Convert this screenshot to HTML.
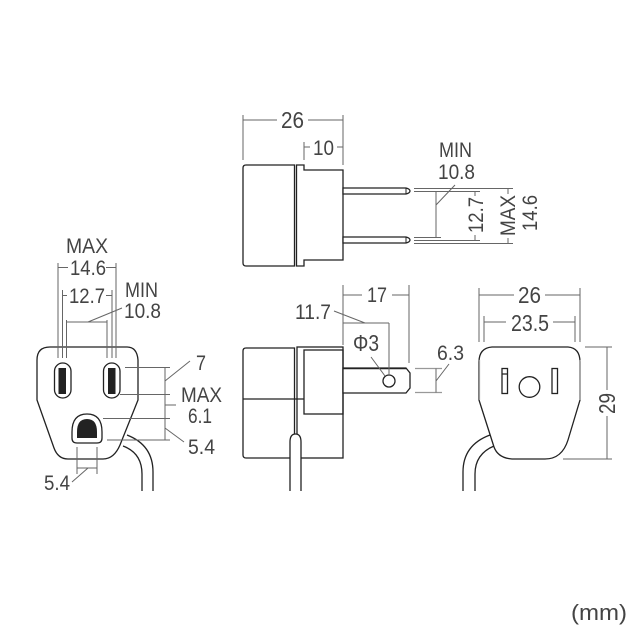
<!DOCTYPE html>
<html>
<head>
<meta charset="utf-8">
<style>
html,body{margin:0;padding:0;background:#fff}
svg{display:block}
text{font-family:"Liberation Sans",sans-serif;font-size:21px;fill:#444}
text.b{font-size:23px}
.o{fill:#fff;stroke:#222;stroke-width:1.3}
.l{fill:none;stroke:#222;stroke-width:1.3}
.d{fill:none;stroke:#666;stroke-width:1}
.g{fill:none;stroke:#999;stroke-width:1.2}
</style>
</head>
<body>
<svg width="640" height="640" viewBox="0 0 640 640" xmlns="http://www.w3.org/2000/svg">
<!-- LEFT VIEW -->
<path class="l" d="M127 435Q153 445 153 472V491"/>
<path class="l" d="M123 446Q142 453 142 474V491"/>
<path class="o" d="M50 347H127Q137 347 138 360V400L120 445Q114 459 103 459H68Q58 459 54 448L37 400V360Q37 347 50 347Z"/>
<rect class="o" x="54.5" y="363" width="16.5" height="35" rx="8.2"/>
<rect x="58.5" y="368" width="7.5" height="26" fill="#222"/>
<rect class="o" x="103.5" y="363" width="16.5" height="35" rx="8.2"/>
<rect x="108" y="368" width="7.5" height="26" fill="#222"/>
<path class="o" d="M72 438V432Q72 414 87 414Q102 414 102 432V438Q102 443 97 443H77Q72 443 72 438Z"/>
<path d="M77 438V432Q77 419 87 419Q97 419 97 432V438Z" fill="#222"/>
<path class="d" d="M58 263V358M116 263V358M62.500 290V358M112 290V358M66.500 320V358M107 320V358"/>
<path class="d" d="M58 267.500H68M106 267.500H116M62.500 295.500H67M106 295.500H112M66.500 322H107M88 322L122 308"/>
<path class="d" d="M125 367.500H170M120 394.500H170M103 418.500H170M107 440H170M165 367.500V440M165 405H176M165 381L190 361M165 428L184 442"/>
<path class="d" d="M77 447V474M97 447V474M77 468H97M88 468L72 482"/>
<text x="66" y="253" textLength="42" lengthAdjust="spacingAndGlyphs">MAX</text>
<text x="70" y="275" textLength="36" lengthAdjust="spacingAndGlyphs">14.6</text>
<text x="69" y="303" textLength="36" lengthAdjust="spacingAndGlyphs">12.7</text>
<text x="125" y="297" textLength="33" lengthAdjust="spacingAndGlyphs">MIN</text>
<text x="124" y="318" textLength="37" lengthAdjust="spacingAndGlyphs">10.8</text>
<text x="196" y="370" textLength="10" lengthAdjust="spacingAndGlyphs">7</text>
<text x="181" y="402" textLength="41" lengthAdjust="spacingAndGlyphs">MAX</text>
<text x="188" y="423" textLength="24" lengthAdjust="spacingAndGlyphs">6.1</text>
<text x="188" y="454" textLength="27" lengthAdjust="spacingAndGlyphs">5.4</text>
<text x="44" y="490" textLength="26" lengthAdjust="spacingAndGlyphs">5.4</text>
<!-- TOP VIEW -->
<path class="o" d="M246 165H294.500V266H246Q243 266 243 263V168Q243 165 246 165Z"/>
<path class="o" d="M296.500 165H304V170H343V260H304V266H296.500Z"/>
<path class="o" d="M343 188H406Q410 189 410 191Q410 193 406 194H343Z"/>
<path class="o" d="M343 237H406Q410 238 410 240Q410 242 406 243H343Z"/>
<path d="M406 188V194M406 237V243" stroke="#222" fill="none"/>
<path class="d" d="M243 115V160M343 115V165M304 142V160M243 120H277M308 120H343M304 147H310M337 147H343"/>
<text class="b" x="281" y="128" textLength="23" lengthAdjust="spacingAndGlyphs">26</text>
<text x="313" y="155" textLength="21" lengthAdjust="spacingAndGlyphs">10</text>
<path class="d" d="M414 188.500H513M414 191.500H480M414 243.500H513M414 240.500H480M414 237.500H441"/>
<path class="d" d="M436 192V237.500M436 205L455 185M475 191.500V196M475 235V240.500M508 188.500V194M508 238V243.500"/>
<text x="439" y="157" textLength="33" lengthAdjust="spacingAndGlyphs">MIN</text>
<text x="438" y="179" textLength="37" lengthAdjust="spacingAndGlyphs">10.8</text>
<text transform="translate(483 233) rotate(-90)" textLength="36" lengthAdjust="spacingAndGlyphs">12.7</text>
<text transform="translate(515 236) rotate(-90)" textLength="41" lengthAdjust="spacingAndGlyphs">MAX</text>
<text transform="translate(537 231) rotate(-90)" textLength="36" lengthAdjust="spacingAndGlyphs">14.6</text>
<!-- SIDE VIEW -->
<path class="o" d="M246 348H294.500V458H246Q243 458 243 455V351Q243 348 246 348Z"/>
<rect class="o" x="297" y="347" width="46" height="111"/>
<rect class="l" x="304" y="350" width="39" height="64"/>
<path class="l" d="M243 399H304"/>
<path class="o" d="M343 368H406L410 373V388L406 393H343Z"/>
<path d="M343 368.500H406" stroke="#222" stroke-width="1.6" fill="none"/>
<circle class="o" cx="389" cy="381" r="6"/>
<path class="o" d="M290 491V442Q290 434 295.500 434Q301 434 301 442V491"/>
<path class="d" d="M343 285V345M409 285V363M343 295H362M392 295H409M343 323H389M389 323V375M334 311L365 323M371 357L385 376"/>
<text x="295" y="319" textLength="36" lengthAdjust="spacingAndGlyphs">11.7</text>
<text x="367" y="302" textLength="20" lengthAdjust="spacingAndGlyphs">17</text>
<text class="b" x="353" y="351" textLength="26" lengthAdjust="spacingAndGlyphs">Φ3</text>
<path class="g" d="M415 368.500H442M415 392.500H442"/>
<path class="d" d="M436 368.500V392.500M436 381L449 364"/>
<text x="437" y="360" textLength="27" lengthAdjust="spacingAndGlyphs">6.3</text>
<!-- FRONT VIEW -->
<path class="l" d="M490 435Q463 445 463 472V491"/>
<path class="l" d="M494 446Q475 454 475 474V491"/>
<path class="o" d="M492 347H568Q580 348 580 362V400L568 440Q562 459 545 459H512Q498 458 494 447L479 400V362Q479 348 492 347Z"/>
<path class="g" d="M479.500 360V400M580 360V400"/>
<rect class="o" x="502" y="368.500" width="5.500" height="25"/>
<path class="l" d="M502 374H507.500M552 374H557.500"/>
<rect class="o" x="552" y="368.500" width="5.500" height="25"/>
<circle class="o" cx="529.500" cy="387" r="10.300"/>
<path class="d" d="M479 288V342M580 288V342M479 295H514M545 295H580M484 316V342M575 316V342M484 322H506M553 322H575"/>
<path class="d" d="M585 347H612M563 459H612M607 347V390M607 416V459"/>
<text class="b" x="518" y="303" textLength="23" lengthAdjust="spacingAndGlyphs">26</text>
<text class="b" x="511" y="331" textLength="38" lengthAdjust="spacingAndGlyphs">23.5</text>
<text class="b" transform="translate(615 414) rotate(-90)" textLength="21" lengthAdjust="spacingAndGlyphs">29</text>
<text x="571" y="620" textLength="56" lengthAdjust="spacingAndGlyphs" style="font-size:22px">(mm)</text>
</svg>
</body>
</html>
